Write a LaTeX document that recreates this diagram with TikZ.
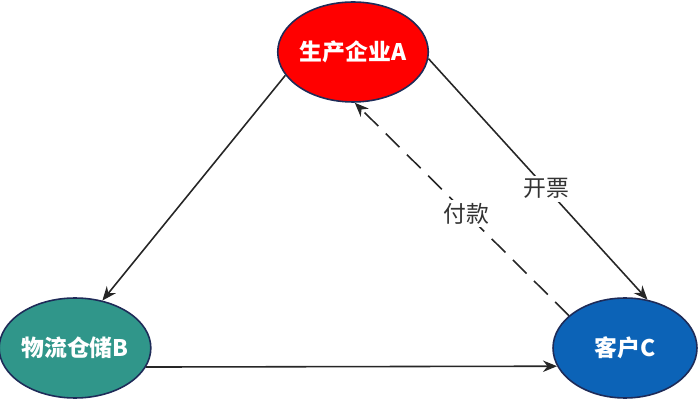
\documentclass[tikz,border=0pt]{standalone}
\usepackage{fontspec}
\newfontfamily\cjk{Noto Sans CJK SC}
\usetikzlibrary{shapes.geometric,arrows.meta}
\definecolor{firmred}{HTML}{FF0000}
\definecolor{storeteal}{HTML}{30968A}
\definecolor{clientblue}{HTML}{0C63B7}
\definecolor{rimnavy}{HTML}{1E2B58}
\tikzset{
	party/.style={ellipse, draw=rimnavy, line width=0.9pt, inner sep=0pt,
		minimum width=2.88cm, minimum height=2cm, text=white,
		font=\cjk\bfseries\fontsize{13}{15}\selectfont},
	flow/.style={draw=black!85, line width=0.9pt, -{Stealth[length=8pt, width=6.5pt]}},
	tag/.style={fill=white, inner sep=1.5pt, text=black!80,
		font=\cjk\fontsize{13}{15}\selectfont}
}
\begin{document}
\begin{tikzpicture}[x=0.02cm, y=-0.02cm, line join=round]
		\useasboundingbox (0,0) rectangle (699,401);
		\path 
			(353,52) coordinate (pA)
			(75,348) coordinate (pB)
			(625,348) coordinate (pC)
		;
		\foreach \d/\c/\t in {A/firmred/生产企业A, B/storeteal/物流仓储B, C/clientblue/客户C}{
			\node[party, fill=\c] (\d) at (p\d) {\t};
		}
		\draw[flow] (A.199) -- (B.60);
		\draw[flow] (A.355) -- node[tag, pos=0.54] {开票} (C.65);
		\draw[flow, dash pattern=on 11pt off 6pt] (C.150) -- node[tag, pos=0.48] {付款} (A.272);
		\draw[flow] (B.-15) -- (C.195);
		\end{tikzpicture}
\end{document}
